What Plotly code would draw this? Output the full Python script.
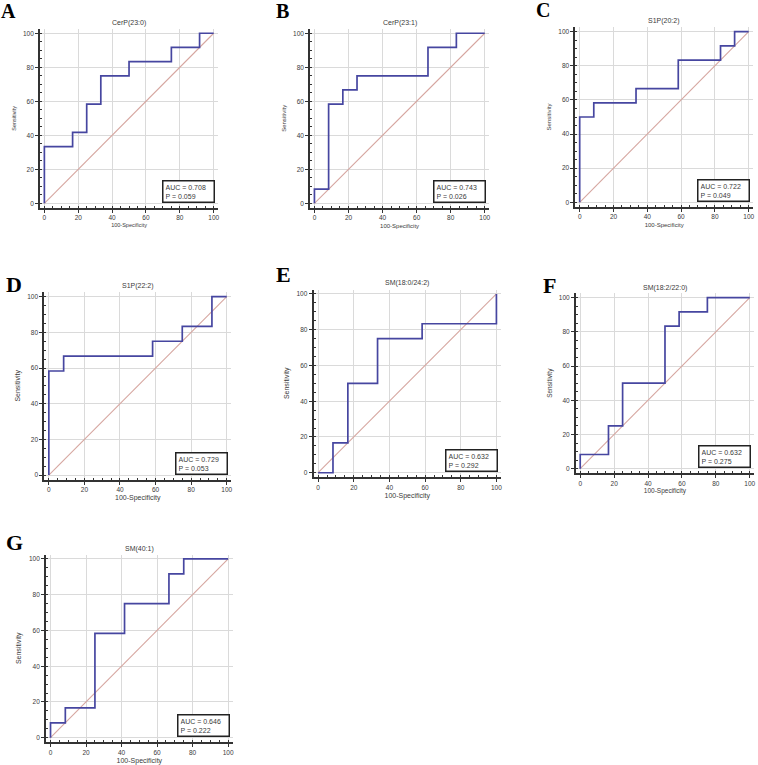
import plotly.graph_objects as go

W, H = 758, 765

# ---------------- data ----------------
panel_letters = ["A", "B", "C", "D", "E", "F", "G"]
panel_titles = ["CerP(23:0)", "CerP(23:1)", "S1P(20:2)", "S1P(22:2)",
                "SM(18:0/24:2)", "SM(18:2/22:0)", "SM(40:1)"]
auc_values = ["0.708", "0.743", "0.722", "0.729", "0.632", "0.632", "0.646"]
p_values = ["0.059", "0.026", "0.049", "0.053", "0.292", "0.275", "0.222"]

# ROC operating points: 100-Specificity (x) and Sensitivity (y)
fpr_A = [0, 0, 16.67, 25, 33.33, 50, 75, 91.67, 100]
tpr_A = [0, 33.33, 41.67, 58.33, 75, 83.33, 91.67, 100, 100]

fpr_B = [0, 0, 8.33, 16.67, 25, 66.67, 83.33, 100]
tpr_B = [0, 8.33, 58.33, 66.67, 75, 91.67, 100, 100]

fpr_C = [0, 0, 8.33, 33.33, 58.33, 83.33, 91.67, 100]
tpr_C = [0, 50, 58.33, 66.67, 83.33, 91.67, 100, 100]

fpr_D = [0, 0, 8.33, 58.33, 75, 91.67, 100]
tpr_D = [0, 58.33, 66.67, 75, 83.33, 100, 100]

fpr_E = [0, 8.33, 16.67, 33.33, 58.33, 100]
tpr_E = [0, 16.67, 50, 75, 83.33, 100]

fpr_F = [0, 0, 16.67, 25, 50, 58.33, 75, 100]
tpr_F = [0, 8.33, 25, 50, 83.33, 91.67, 100, 100]

fpr_G = [0, 0, 8.33, 25, 41.67, 66.67, 75, 100]
tpr_G = [0, 8.33, 16.67, 58.33, 75, 91.67, 100, 100]

diag_x = [0, 100]
diag_y = [0, 100]

tick_vals = [0, 20, 40, 60, 80, 100]

fprs = [fpr_A, fpr_B, fpr_C, fpr_D, fpr_E, fpr_F, fpr_G]
tprs = [tpr_A, tpr_B, tpr_C, tpr_D, tpr_E, tpr_F, tpr_G]

# ---------------- layout geometry (pixels) ----------------
# (left, right, top, bottom) of each plot area
boxes = [
    (40.25, 218.5, 29.0, 207.6),
    (311.0, 490.3, 29.0, 207.6),
    (577.0, 754.9, 27.4, 206.6),
    (44.5, 231.8, 292.2, 479.5),
    (314.5, 502.2, 289.5, 477.2),
    (577.5, 756.0, 293.4, 473.0),
    (46.2, 233.2, 554.5, 742.2),
]
letter_pos = [(9, 11), (283, 11), (544, 10.5), (13.7, 284), (284, 274), (551, 285), (15, 542.5)]
letter_size = [20, 20, 20, 22, 22, 22, 22]
title_y = [23, 22.7, 20.7, 285.7, 283.3, 287.7, 549.3]
ytitle_size = [5.5, 6, 6, 7, 7, 6.5, 7]

ROC_COLOR = "#4646a0"
DIAG_COLOR = "#d6a6a0"
AXIS_COLOR = "#333333"
TEXT_COLOR = "#3a3a3a"
FONT = "Liberation Sans, Arial, sans-serif"


def px_x(v):
    return v / W


def px_y(v):
    return 1 - v / H


fig = go.Figure()
annotations = []
layout_axes = {}

for i in range(7):
    sfx = "" if i == 0 else str(i + 1)
    xa = "x" + sfx
    ya = "y" + sfx
    l, r, t, b = boxes[i]

    fig.add_trace(go.Scatter(x=diag_x, y=diag_y, mode="lines",
                             line=dict(color=DIAG_COLOR, width=1.1),
                             xaxis=xa, yaxis=ya, showlegend=False, hoverinfo="skip"))
    fig.add_trace(go.Scatter(x=fprs[i], y=tprs[i], mode="lines",
                             line=dict(color=ROC_COLOR, width=1.7, shape="hv"),
                             xaxis=xa, yaxis=ya, showlegend=False))

    common = dict(
        range=[-2.5, 102.5], tickvals=tick_vals, ticks="outside", ticklen=3,
        tickwidth=1, tickcolor=AXIS_COLOR, showline=True, linecolor=AXIS_COLOR,
        linewidth=2, showgrid=True, gridcolor="#dadada", gridwidth=1,
        zeroline=False, tickfont=dict(family=FONT, size=6.5, color=TEXT_COLOR),
        minor=dict(dtick=5, tick0=0, ticks="inside", ticklen=2, tickcolor=AXIS_COLOR,
                   tickwidth=1, showgrid=False),
        fixedrange=True,
    )
    layout_axes["xaxis" + sfx] = dict(
        common, domain=[px_x(l), px_x(r)], anchor=ya,
        title=dict(text="100-Specificity", standoff=3,
                   font=dict(family=FONT, size=ytitle_size[i], color=TEXT_COLOR)),
    )
    layout_axes["yaxis" + sfx] = dict(
        common, domain=[px_y(b), px_y(t)], anchor=xa,
        title=dict(text="Sensitivity", standoff=6,
                   font=dict(family=FONT, size=ytitle_size[i], color=TEXT_COLOR)),
    )

    # panel title
    annotations.append(dict(
        text=panel_titles[i], x=px_x((l + r) / 2), y=px_y(title_y[i]),
        xref="paper", yref="paper", xanchor="center", yanchor="middle",
        showarrow=False, font=dict(family=FONT, size=7, color=TEXT_COLOR)))
    # panel letter
    annotations.append(dict(
        text="<b>%s</b>" % panel_letters[i], x=px_x(letter_pos[i][0]), y=px_y(letter_pos[i][1]),
        xref="paper", yref="paper", xanchor="center", yanchor="middle",
        showarrow=False, font=dict(family="Liberation Serif, Times New Roman, serif",
                                   size=letter_size[i], color="#000000")))
    # AUC box
    annotations.append(dict(
        text="AUC = %s<br>P = %s" % (auc_values[i], p_values[i]),
        x=100.8, y=0.3, xref=xa, yref=ya, xanchor="right", yanchor="bottom",
        align="left", showarrow=False, bgcolor="white", bordercolor="#222222",
        borderwidth=1.5, borderpad=2, width=46,
        font=dict(family=FONT, size=7, color=TEXT_COLOR)))

fig.update_layout(
    width=W, height=H, margin=dict(l=0, r=0, t=0, b=0),
    paper_bgcolor="white", plot_bgcolor="white",
    annotations=annotations, showlegend=False,
    **layout_axes,
)

fig.write_html("out.html", config={"displayModeBar": False},
               post_script="document.body.style.margin='0px';document.body.style.overflow='hidden';")
